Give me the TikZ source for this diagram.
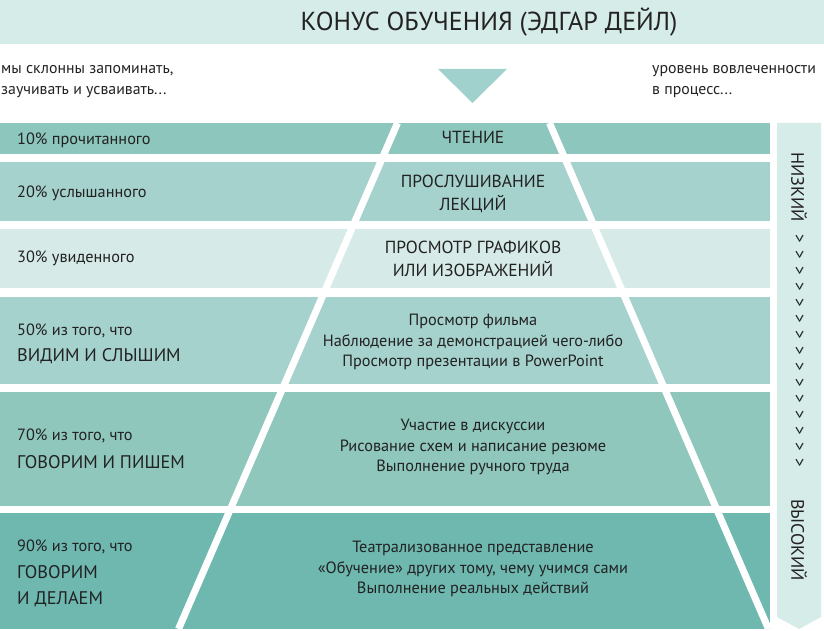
\documentclass[tikz,border=0pt]{standalone}
\usepackage{fontspec}
\setmainfont{PT Sans}
\definecolor{band}{HTML}{D6ECE8}
\definecolor{rowA}{HTML}{8DC6BD}
\definecolor{rowB}{HTML}{A6D2CE}
\definecolor{rowC}{HTML}{D6EBE8}
\definecolor{rowD}{HTML}{A6D2CE}
\definecolor{rowE}{HTML}{8FC7BD}
\definecolor{rowF}{HTML}{6EB8B0}
\definecolor{tip}{HTML}{A0D1CD}
\definecolor{ink}{HTML}{222222}
\tikzset{
  pct/.style={anchor=west,inner sep=0pt,font=\fontsize{16.3}{18}\selectfont},
  caps/.style={anchor=west,inner sep=0pt,font=\fontsize{18.3}{20}\selectfont},
  mid/.style={align=center,inner sep=0pt,font=\fontsize{16.3}{20.8}\selectfont},
  midcaps/.style={align=center,inner sep=0pt,font=\fontsize{17.5}{23}\selectfont},
}
\begin{document}
\begin{tikzpicture}[x=1pt,y=-1pt,text=ink]
  \useasboundingbox (0,0) rectangle (824,631);
  %% title band
  \fill[band] (0,0) rectangle (824,44);
  \node[inner sep=0pt,font=\fontsize{26}{28}\selectfont] (title) at (489,22) {КОНУС ОБУЧЕНИЯ (ЭДГАР ДЕЙЛ)};
  %% top notes and the tip
  \node[pct,align=left,font=\fontsize{15.8}{21}\selectfont] (memory) at (1,82) {мы склонны запоминать,\\заучивать и усваивать...};
  \node[pct,align=left,font=\fontsize{15.8}{21}\selectfont] (involve) at (652,82) {уровень вовлеченности\\в процесс...};
  \fill[tip] (438,69) -- (507,69) -- (472.5,103) -- cycle;
  %% rows
  \fill[rowA] (0,123) rectangle (770,154);
  \fill[rowB] (0,162) rectangle (770,221);
  \fill[rowC] (0,229) rectangle (770,288);
  \fill[rowD] (0,297) rectangle (770,384);
  \fill[rowE] (0,392) rectangle (770,506);
  \fill[rowF] (0,513) rectangle (770,629);
  %% cone edges
  \draw[white,line width=7pt] (397.5,123) -- (178.5,629);
  \draw[white,line width=7pt] (549.5,123) -- (768.5,629);
  %% left column
  \node[pct] (read) at (17,140) {10\% прочитанного};
  \node[pct] (heard) at (17,193) {20\% услышанного};
  \node[pct] (seen) at (17,258) {30\% увиденного};
  \node[pct] (seeA) at (17,331) {50\% из того, что};
  \node[caps] (seeB) at (17,356) {ВИДИМ И СЛЫШИМ};
  \node[pct] (sayA) at (17,436) {70\% из того, что};
  \node[caps] (sayB) at (17,462) {ГОВОРИМ И ПИШЕМ};
  \node[pct] (doA) at (17,547) {90\% из того, что};
  \node[caps] (doB) at (17,572) {ГОВОРИМ};
  \node[caps] (doC) at (17,599) {И ДЕЛАЕМ};
  %% cone texts
  \node[midcaps] (reading) at (473,137) {ЧТЕНИЕ};
  \node[midcaps] (lecture) at (473,194) {ПРОСЛУШИВАНИЕ\\ЛЕКЦИЙ};
  \node[midcaps] (graphs) at (473,259) {ПРОСМОТР ГРАФИКОВ\\ИЛИ ИЗОБРАЖЕНИЙ};
  \node[mid] (film) at (473,342) {Просмотр фильма\\Наблюдение за демонстрацией чего-либо\\Просмотр презентации в PowerPoint};
  \node[mid] (talk) at (473,447) {Участие в дискуссии\\Рисование схем и написание резюме\\Выполнение ручного труда};
  \node[mid] (act) at (473,569) {Театрализованное представление\\«Обучение» других тому, чему учимся сами\\Выполнение реальных действий};
  %% involvement arrow
  \fill[band] (777,123) -- (821,123) -- (821,617) -- (799,629) -- (777,617) -- cycle;
  \node[rotate=-90,inner sep=0pt,font=\fontsize{18}{20}\selectfont] (low) at (799,187) {НИЗКИЙ};
  \node[rotate=-90,inner sep=0pt,font=\fontsize{18}{20}\selectfont] (high) at (799,540) {ВЫСОКИЙ};
  \foreach \i in {0,...,14}
    \node[rotate=-90,inner sep=0pt,font=\fontsize{17}{19}\selectfont] at (799,239+16*\i) {>};
\end{tikzpicture}
\end{document}
